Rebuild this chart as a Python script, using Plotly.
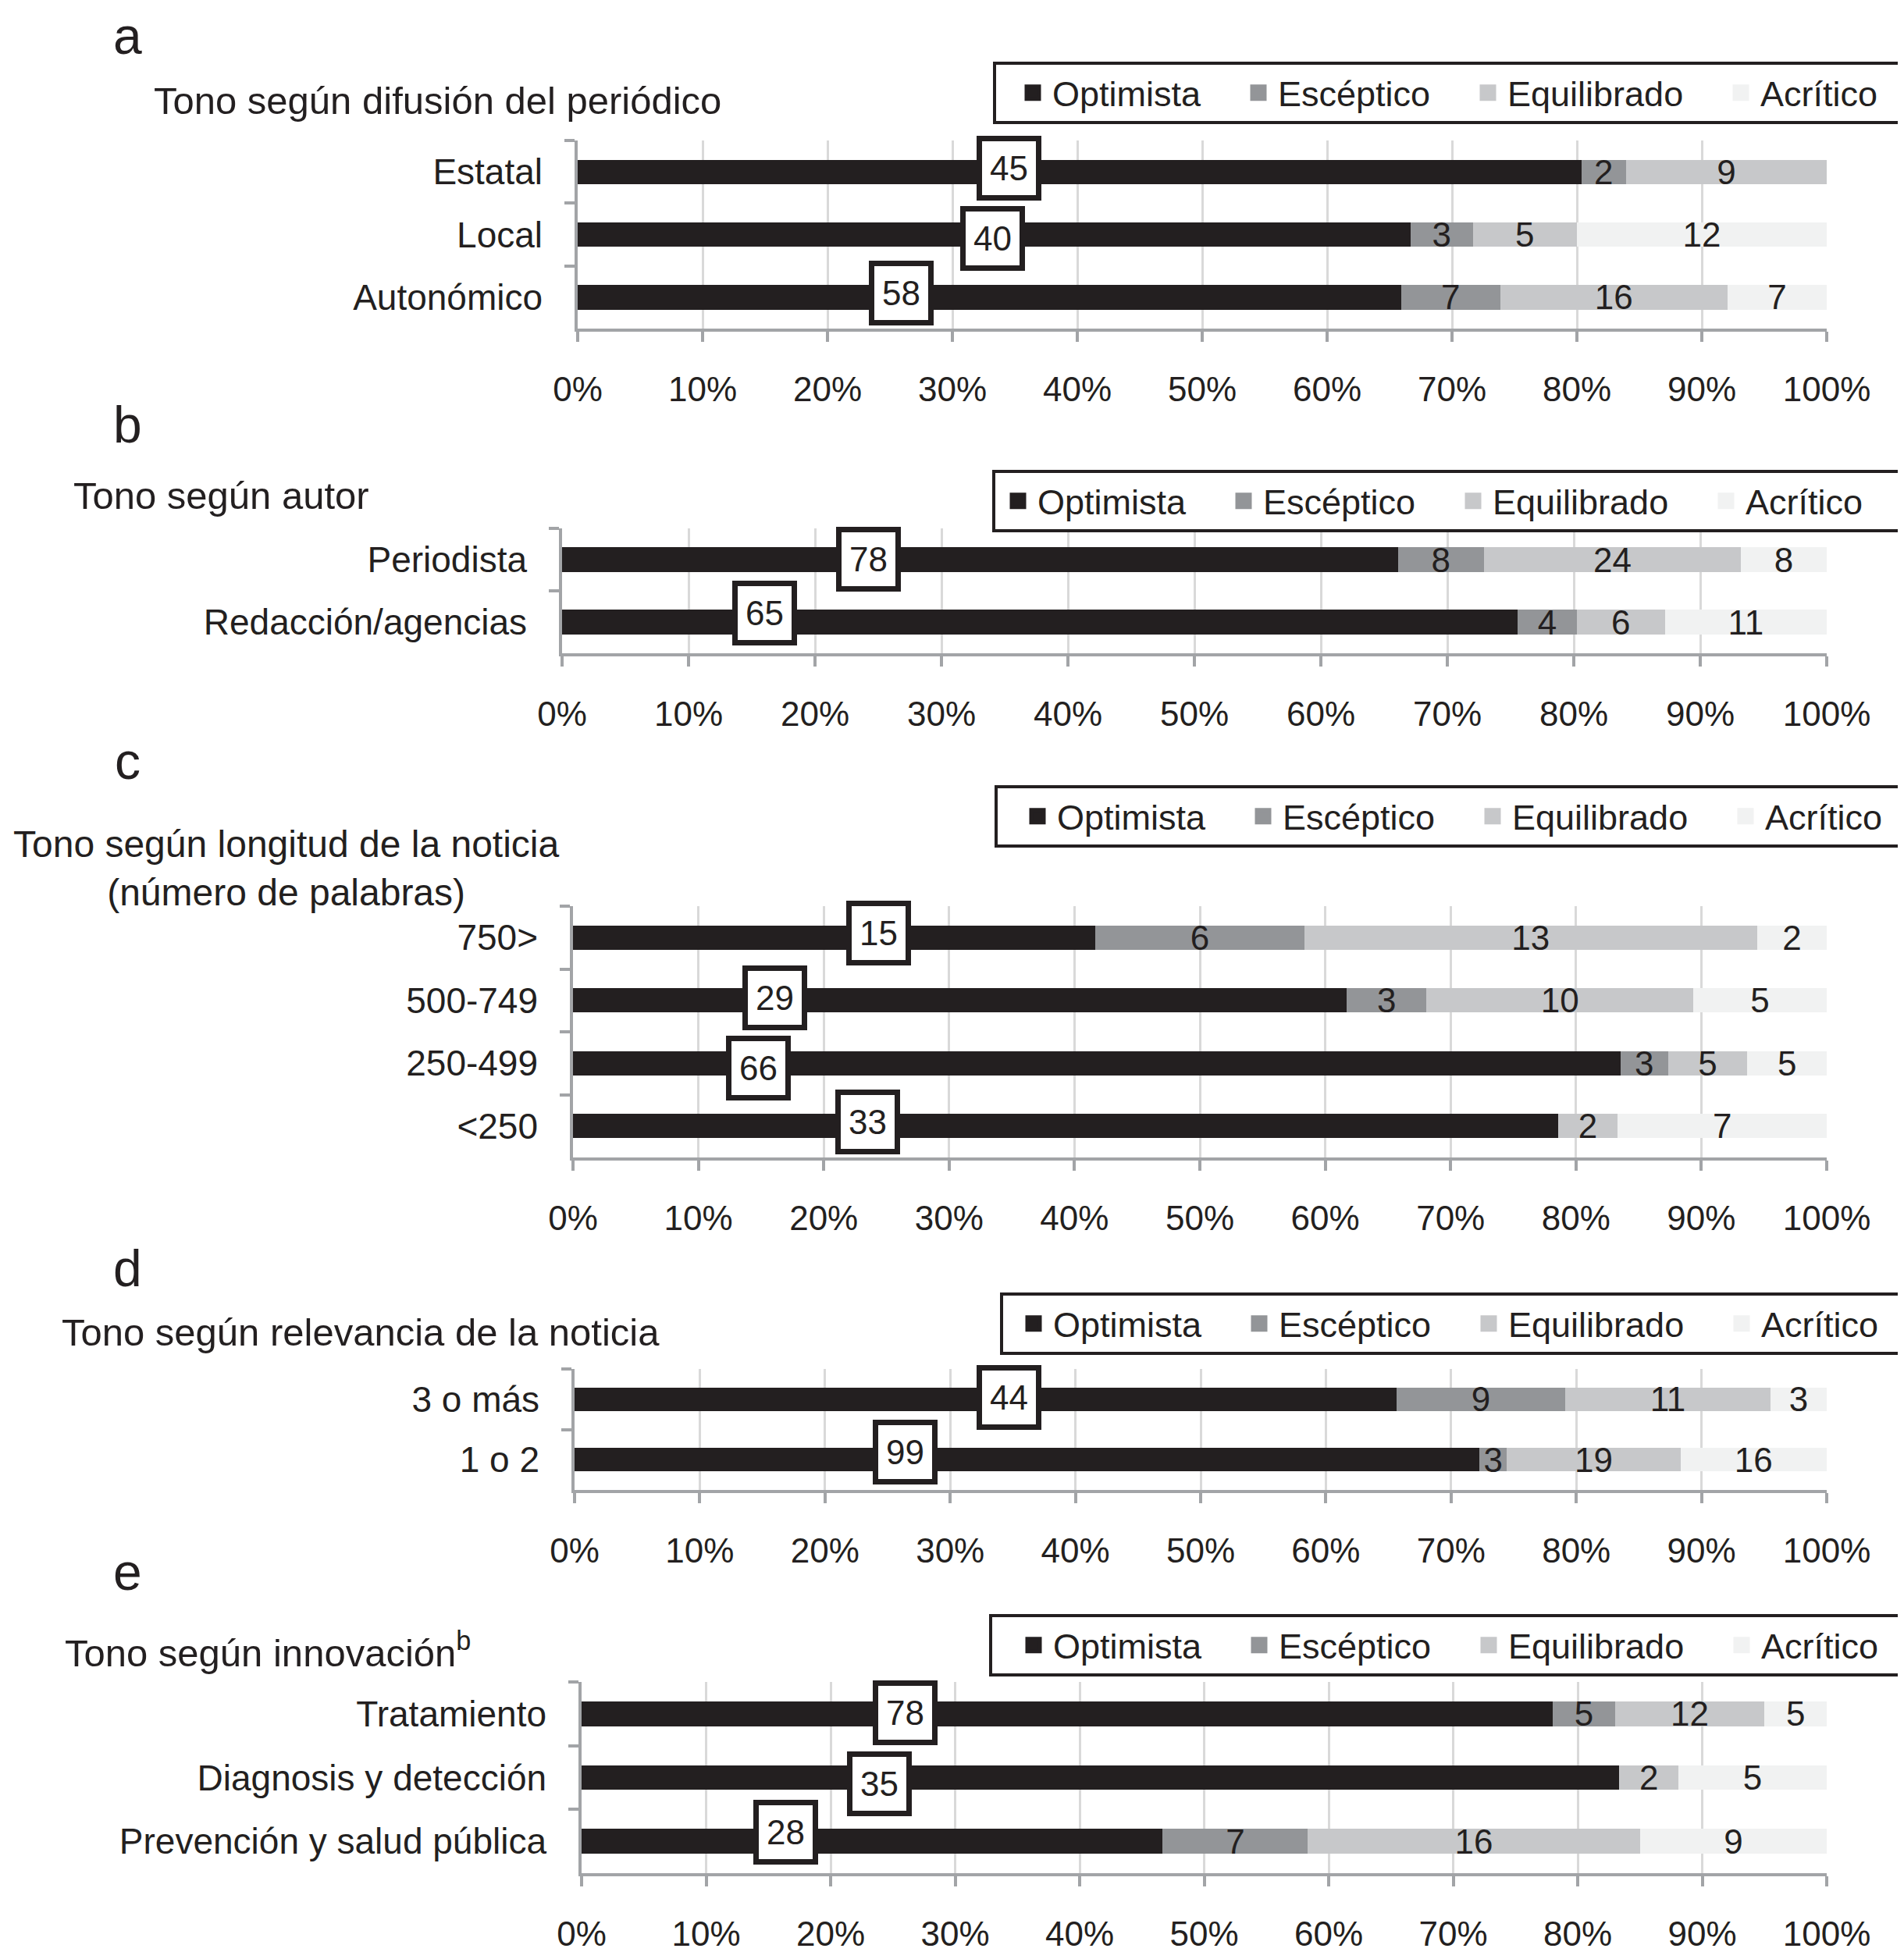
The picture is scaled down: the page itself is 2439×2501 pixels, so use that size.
import plotly.graph_objects as go

W, H = 2439, 2501
OFF = 8  # the page body margin shifts the figure by this many pixels

# ---------------- data ----------------
series_names = ["Optimista", "Escéptico", "Equilibrado", "Acrítico"]
x_ticks = [0, 10, 20, 30, 40, 50, 60, 70, 80, 90, 100]
x_tick_text = ["0%", "10%", "20%", "30%", "40%", "50%", "60%", "70%", "80%", "90%", "100%"]

a_title = "Tono según difusión del periódico"
a_categories = ["Estatal", "Local", "Autonómico"]
a_optimista = [45, 40, 58]
a_esceptico = [2, 3, 7]
a_equilibrado = [9, 5, 16]
a_acritico = [0, 12, 7]

b_title = "Tono según autor"
b_categories = ["Periodista", "Redacción/agencias"]
b_optimista = [78, 65]
b_esceptico = [8, 4]
b_equilibrado = [24, 6]
b_acritico = [8, 11]

c_title = "Tono según longitud de la noticia<br>(número de palabras)"
c_categories = ["750>", "500-749", "250-499", "<250"]
c_optimista = [15, 29, 66, 33]
c_esceptico = [6, 3, 3, 0]
c_equilibrado = [13, 10, 5, 2]
c_acritico = [2, 5, 5, 7]

d_title = "Tono según relevancia de la noticia"
d_categories = ["3 o más", "1 o 2"]
d_optimista = [44, 99]
d_esceptico = [9, 3]
d_equilibrado = [11, 19]
d_acritico = [3, 16]

e_title = "Tono según innovación<sup>b</sup>"
e_categories = ["Tratamiento", "Diagnosis y detección", "Prevención y salud pública"]
e_optimista = [78, 35, 28]
e_esceptico = [5, 0, 7]
e_equilibrado = [12, 2, 16]
e_acritico = [5, 5, 9]

# ---------------- styles / layout positions (pixels) ----------------
colors = ["#231f20", "#939598", "#c7c8ca", "#f1f2f2"]
DARK = "#231f20"
AXIS = "#a2a4a7"
GRID = "#d9d9d9"
FONT = "Liberation Sans, Arial, Helvetica, sans-serif"


def px(xp):
    return (xp - OFF) / W


def py(yp):
    return 1 - (yp - OFF) / H


panels = [
    dict(letter="a", title=a_title, cats=a_categories,
         series=[a_optimista, a_esceptico, a_equilibrado, a_acritico],
         plot=(740, 180, 421), title_pos=(195, 146, "left", 49), letter_mid=46,
         legend_box=(1272, 2432), legend_marker=1323, legend_mid=119,
         box_pos=[34.5, 33.2, 25.9], box_shift=[5, -5.5, 5]),
    dict(letter="b", title=b_title, cats=b_categories,
         series=[b_optimista, b_esceptico, b_equilibrado, b_acritico],
         plot=(720, 677, 837), title_pos=(92, 652, "left", 49), letter_mid=544,
         legend_box=(1271, 2432), legend_marker=1304, legend_mid=642,
         box_pos=[24.2, 16.0], box_shift=[1, 12]),
    dict(letter="c", title=c_title, cats=c_categories,
         series=[c_optimista, c_esceptico, c_equilibrado, c_acritico],
         plot=(734, 1161, 1483), title_pos=(366, 1112, "center", 48), letter_mid=975,
         legend_box=(1274, 2434), legend_marker=1329, legend_mid=1046,
         box_pos=[24.4, 16.1, 14.8, 23.5], box_shift=[6, 3, -6, 5]),
    dict(letter="d", title=d_title, cats=d_categories,
         series=[d_optimista, d_esceptico, d_equilibrado, d_acritico],
         plot=(736, 1754, 1909), title_pos=(77, 1724, "left", 49), letter_mid=1625,
         legend_box=(1281, 2438), legend_marker=1324, legend_mid=1696,
         box_pos=[34.7, 26.4], box_shift=[2, 10]),
    dict(letter="e", title=e_title, cats=e_categories,
         series=[e_optimista, e_esceptico, e_equilibrado, e_acritico],
         plot=(745, 2155, 2400), title_pos=(81, 2131, "left", 49), letter_mid=2014,
         legend_box=(1267, 2426), legend_marker=1324, legend_mid=2108,
         box_pos=[26.0, 23.9, 16.4], box_shift=[1, -8, 12]),
]
X_RIGHT = 2340
LEGEND_SPACING = [234, 239, 269]
ITEMWIDTH = 40
LEG_BW = 4

fig = go.Figure()
layout = dict(
    width=W, height=H, autosize=False,
    margin=dict(l=0, r=0, t=0, b=0, pad=0, autoexpand=False),
    paper_bgcolor="white", plot_bgcolor="white",
    barmode="stack", bargap=0.61,
    font=dict(family=FONT, color=DARK, size=44),
    uniformtext=dict(minsize=44, mode="show"),
    showlegend=True,
)
annotations = []

for i, p in enumerate(panels, start=1):
    sx = "" if i == 1 else str(i)
    xa, ya = "x" + sx, "y" + sx
    leg = "legend" + sx
    x0, y0, y1 = p["plot"]
    cats = p["cats"]
    n = len(cats)
    totals = [sum(vals) for vals in zip(*p["series"])]
    bl, br = p["legend_box"]
    indent = p["legend_marker"] - bl - LEG_BW - (ITEMWIDTH + 10) / 2

    for j, (name, vals) in enumerate(zip(series_names, p["series"])):
        pct = [v / t * 100 for v, t in zip(vals, totals)]
        if j == 0:
            text = None
        else:
            text = [str(v) if v > 0 else None for v in vals]
        fig.add_trace(go.Bar(
            orientation="h", y=cats, x=pct, name=name,
            xaxis=xa, yaxis=ya, showlegend=False,
            marker=dict(color=colors[j], line=dict(width=0)),
            text=text, textposition="inside" if j > 0 else "none",
            insidetextanchor="middle", textangle=0,
            textfont=dict(size=44, color=DARK, family=FONT),
            customdata=vals,
            hovertemplate=name + ": %{customdata}<extra></extra>",
        ))
        # legend entry (larger square symbol than the fixed bar legend glyph)
        if j < 3:
            lw = LEGEND_SPACING[j] - indent
        else:
            lw = br - p["legend_marker"] - 24
        fig.add_trace(go.Scatter(
            x=[None], y=[None], mode="markers", name=name,
            xaxis=xa, yaxis=ya, legend=leg, legendwidth=lw,
            marker=dict(symbol="square", size=16, color=colors[j],
                        line=dict(color=colors[j], width=5)),
            hoverinfo="skip",
        ))

    layout["xaxis" + sx] = dict(
        domain=[px(x0), px(X_RIGHT)], anchor=ya, range=[0, 100],
        tickmode="array", tickvals=x_ticks, ticktext=x_tick_text,
        showgrid=True, gridcolor=GRID, gridwidth=3, zeroline=False,
        showline=True, linecolor=AXIS, linewidth=3.5,
        ticks="outside", ticklen=13, tickwidth=3.5, tickcolor=AXIS,
        ticklabelstandoff=23, automargin=False,
        tickfont=dict(size=44, color=DARK, family=FONT), fixedrange=True,
    )
    layout["yaxis" + sx] = dict(
        domain=[py(y1), py(y0)], anchor=xa, type="category",
        categoryorder="array", categoryarray=cats, range=[n - 0.5, -0.5],
        showgrid=False, zeroline=False,
        showline=True, linecolor=AXIS, linewidth=3.5,
        ticks="outside", tickson="boundaries", ticklen=13, tickwidth=3.5, tickcolor=AXIS,
        ticklabelstandoff=32, automargin=False,
        tickfont=dict(size=46, color=DARK, family=FONT), fixedrange=True,
    )
    layout[leg] = dict(
        orientation="h", xanchor="left", yanchor="middle",
        x=px(bl), y=py(p["legend_mid"]), indentation=indent,
        bgcolor="white", bordercolor=DARK, borderwidth=LEG_BW,
        font=dict(size=45, color=DARK, family=FONT),
        itemwidth=ITEMWIDTH, traceorder="normal", entrywidthmode="pixels",
        itemclick=False, itemdoubleclick=False,
    )

    # panel letter
    annotations.append(dict(
        text=p["letter"], x=px(163), y=py(p["letter_mid"]),
        xref="paper", yref="paper", xanchor="center", yanchor="middle",
        showarrow=False, font=dict(size=66, color=DARK, family=FONT),
    ))
    # panel title
    tx, ty, tanchor, tsize = p["title_pos"]
    ymid = ty - 0.35 * tsize if tanchor == "left" else ty
    annotations.append(dict(
        text=p["title"], x=px(tx), y=py(ymid),
        xref="paper", yref="paper", xanchor=tanchor, yanchor="middle", align="center",
        showarrow=False, font=dict(size=tsize, color=DARK, family=FONT),
    ))
    # boxed labels of the Optimista counts
    for cat, v, pos, sh in zip(cats, p["series"][0], p["box_pos"], p["box_shift"]):
        annotations.append(dict(
            text=str(v), x=pos, y=cat, xref=xa, yref=ya, yshift=sh,
            xanchor="center", yanchor="middle", showarrow=False,
            width=69, height=69, align="center", valign="middle",
            bgcolor="white", bordercolor=DARK, borderwidth=7, borderpad=0,
            font=dict(size=44, color=DARK, family=FONT),
        ))

layout["annotations"] = annotations
fig.update_layout(**layout)
fig.write_html("out.html")
